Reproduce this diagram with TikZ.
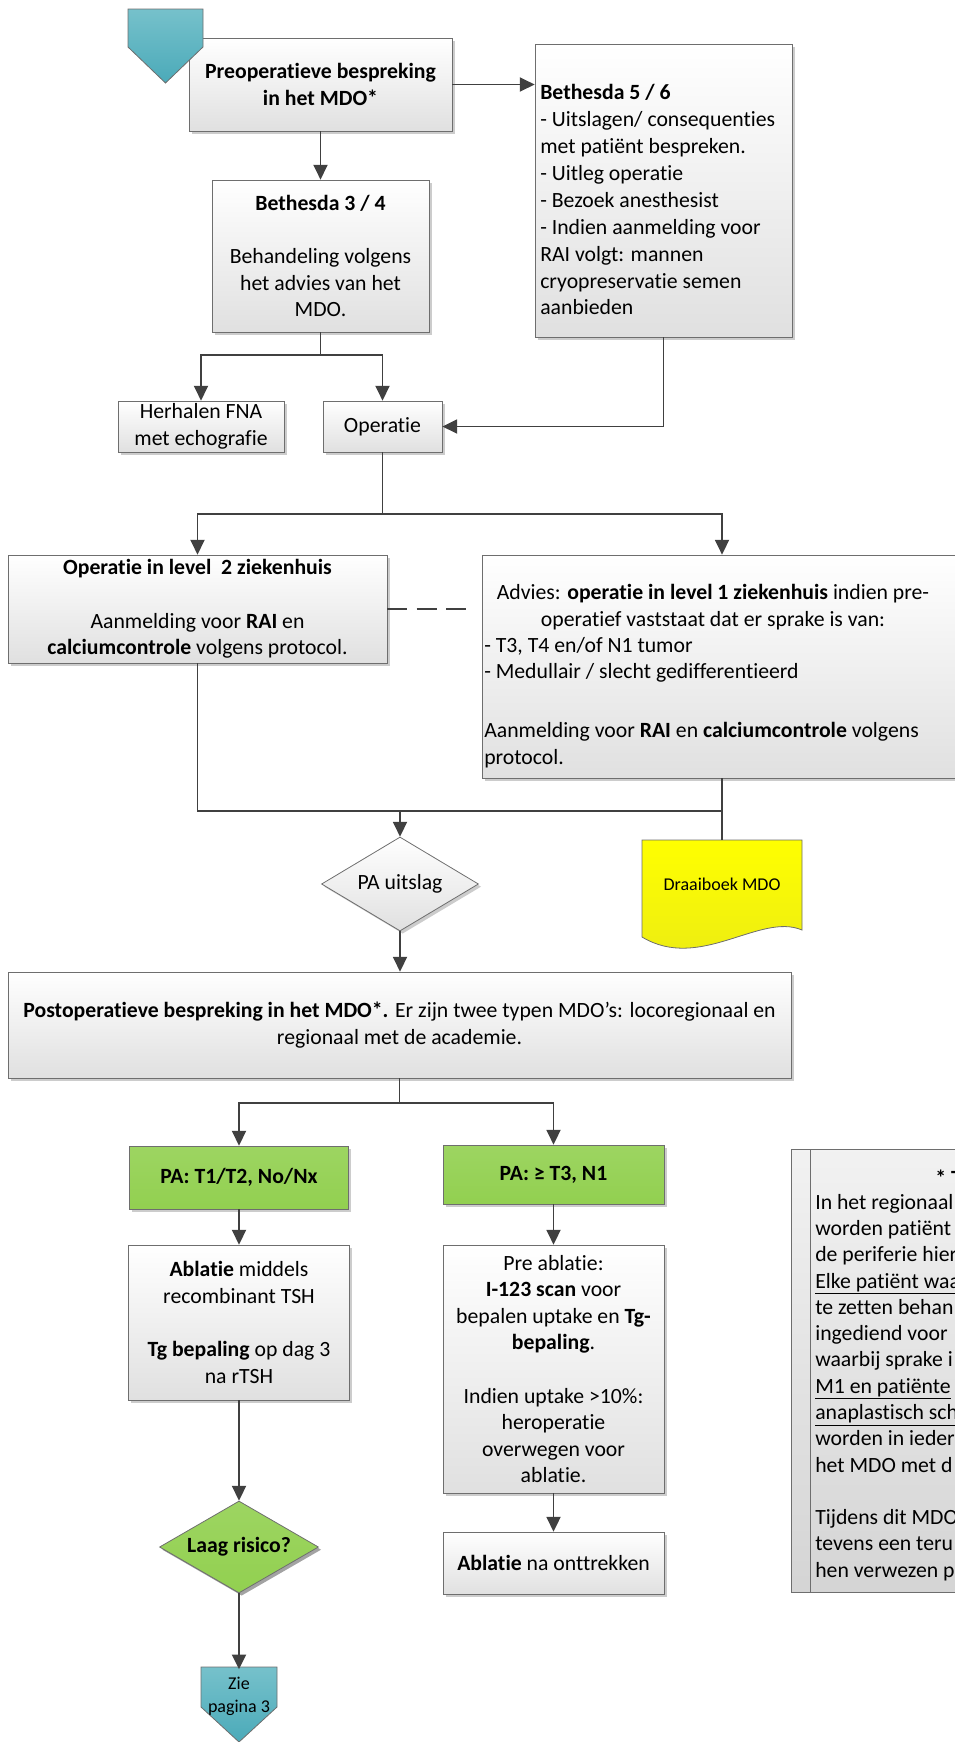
\documentclass[tikz,border=0pt]{standalone}
\usepackage{fontspec}
\setmainfont{Carlito}[Ligatures={NoCommon}]
\usetikzlibrary{arrows.meta,shapes.geometric,shadows}

\definecolor{lijn}{RGB}{64,64,64}
\definecolor{rand}{RGB}{110,110,110}
\definecolor{grijsonder}{RGB}{224,224,224}
\definecolor{mdogroen}{RGB}{146,208,80}
\definecolor{tealboven}{RGB}{118,193,203}
\definecolor{tealonder}{RGB}{75,170,185}
\definecolor{geel}{RGB}{255,255,0}
\definecolor{geelonder}{RGB}{235,235,20}
\definecolor{notitie}{RGB}{236,236,236}

\newcommand\mdofont{\fontsize{16.3}{19.9}\selectfont}
\newcommand\kleinfont{\fontsize{13.5}{17}\selectfont}

\tikzset{
  blok/.style={draw=rand, line width=0.6pt, shading=axis, top color=white, bottom color=grijsonder,
    drop shadow={shadow xshift=2pt, shadow yshift=-2pt, fill=black, opacity=0.2},
    inner sep=0pt, align=center},
  groenblok/.style={blok, top color=mdogroen!90!white, bottom color=mdogroen},
  ruit/.style={blok, diamond, aspect=1.67},
  pijl/.style={draw=lijn, line width=1.4pt, -{Triangle[length=11pt,width=10.5pt]}},
  verbinding/.style={draw=lijn, line width=1.4pt},
  tekst/.style={inner sep=0pt, align=left},
}

\begin{document}
\begin{tikzpicture}[x=0.75pt,y=0.75pt,yscale=-1,xscale=1,font=\mdofont]
\useasboundingbox (0,0) rectangle (955,1742);

%Shape: Rectangle
\node [blok, minimum width=197.25pt, minimum height=69.75pt, font=\mdofont\bfseries] (preop) at (320.5,84.5) {Preoperatieve bespreking\\in het MDO*};
%Shape: Pentagon (start)
\draw [draw=rand, line width=0.6pt, top color=tealboven, bottom color=tealonder] (128,9) -- (203,9) -- (203,47) -- (165.5,83) -- (128,47) -- cycle ;

%Shape: Rectangle
\node [blok, minimum width=192.75pt, minimum height=219.75pt] (beth56) at (663.5,190.5) {};
% Text Node
\node [tekst, anchor=north west, font=\fontsize{16.3}{20.2}\selectfont] (b56tekst) at (540,84) {\textbf{Bethesda 5 / 6}\\- Uitslagen/ consequenties\\met patiënt bespreken.\\- Uitleg operatie\\- Bezoek anesthesist\\- Indien aanmelding voor\\RAI volgt: mannen\\cryopreservatie semen\\aanbieden};

%Shape: Rectangle
\node [blok, minimum width=162.75pt, minimum height=114pt] (beth34) at (320.5,256) {\textbf{Bethesda 3 / 4}\\\mbox{}\\Behandeling volgens\\het advies van het\\MDO.};
\node [blok, minimum width=124.5pt, minimum height=38.25pt] (herhalen) at (201,426.5) {Herhalen FNA\\met echografie};
\node [blok, minimum width=89.25pt, minimum height=38.25pt] (operatie) at (382.5,426.5) {Operatie};

\node [blok, minimum width=284.25pt, minimum height=81pt] (level2) at (197.5,609) {\textbf{Operatie in level\ \ 2 ziekenhuis}\\\mbox{}\\Aanmelding voor \textbf{RAI} en\\\textbf{calciumcontrole} volgens protocol.};
\node [blok, minimum width=360pt, minimum height=167.25pt] (advies) at (722,666.5) {};
% Text Node
\node [tekst, align=center] (advkop) at (713,607) {Advies: \textbf{operatie in level 1 ziekenhuis} indien pre-\\operatief vaststaat dat er sprake is van:};
% Text Node
\node [tekst, anchor=north west] (advlijst) at (484,637) {- T3, T4 en/of N1 tumor\\- Medullair / slecht gedifferentieerd};
% Text Node
\node [tekst, anchor=north west] (advaanm) at (484,722) {Aanmelding voor \textbf{RAI} en \textbf{calciumcontrole} volgens\\protocol.};

%Shape: Document
\draw [draw=rand, line width=0.6pt, top color=geel, bottom color=geelonder] (642,840) -- (802,840) -- (802,930) .. controls (760,912) and (700,972) .. (642,937) -- cycle ;
\node [minimum width=120pt, minimum height=66pt, inner sep=0pt, font=\kleinfont] (draai) at (722,884) {Draaiboek MDO};

%Shape: Diamond
\node [ruit, minimum width=117.75pt, minimum height=70.5pt] (pa) at (400,884) {PA uitslag};

\node [blok, minimum width=587.25pt, minimum height=79.5pt] (postop) at (399.5,1025) {\textbf{Postoperatieve bespreking in het MDO*.} Er zijn twee typen MDO’s: locoregionaal en\\regionaal met de academie.};

\node [groenblok, minimum width=164.25pt, minimum height=47.25pt, font=\mdofont\bfseries] (groen1) at (239,1177.5) {PA: T1/T2, No/Nx};
\node [groenblok, minimum width=165.75pt, minimum height=44.25pt, font=\mdofont\bfseries] (groen2) at (553.5,1174.5) {PA: ≥ T3, N1};

\node [blok, minimum width=165.75pt, minimum height=116.25pt] (ablatie) at (239,1322.5) {\textbf{Ablatie} middels\\recombinant TSH\\\mbox{}\\\textbf{Tg bepaling} op dag 3\\na rTSH};
\node [blok, minimum width=165.75pt, minimum height=186pt] (preabl) at (553.5,1369) {Pre ablatie:\\\textbf{I-123 scan} voor\\bepalen uptake en \textbf{Tg-}\\\textbf{bepaling}.\\\mbox{}\\Indien uptake >10\%:\\heroperatie\\overwegen voor\\ablatie.};
\node [blok, minimum width=165.75pt, minimum height=46.5pt] (ablna) at (553.5,1563) {\textbf{Ablatie} na onttrekken};

%Shape: Diamond
\node [ruit, groenblok, diamond, aspect=1.73, minimum width=119.25pt, minimum height=69pt, font=\mdofont\bfseries] (laag) at (239,1547) {Laag risico?};

%Shape: Pentagon (off-page)
\draw [draw=rand, line width=0.6pt, top color=tealboven, bottom color=tealonder] (201,1667) -- (277,1667) -- (277,1707) -- (239,1742) -- (201,1707) -- cycle ;
\node [inner ysep=6pt, inner xsep=0pt, minimum width=57pt, align=center, font=\kleinfont] (zie) at (239,1696.5) {Zie\\pagina 3};

%Shape: Note
\draw [draw=rand, line width=0.6pt, top color=notitie!70!white, bottom color=notitie!90!black] (791,1149) rectangle (1010,1592) ;
\draw [rand, line width=0.6pt] (810,1149) -- (810,1592) ;
% Text Node
\node [tekst, anchor=west] (toelkop) at (935,1178) {\textbf{* T}};
% Text Node
\node [tekst, anchor=north west, font=\fontsize{16.3}{19.7}\selectfont] (toeltekst) at (815,1194) {In het regionaal\\worden patiënt\\de periferie hier\\\underline{Elke patiënt waa}\\te zetten behan\\ingediend voor\\waarbij sprake i\\\underline{M1 en patiënte}\\\underline{anaplastisch sch}\\worden in ieder\\het MDO met d\\\mbox{}\\Tijdens dit MDO\\tevens een teru\\hen verwezen p};

%Straight Lines
\coordinate (j1) at (320.5,355);
\coordinate (j2) at (382.5,514);
\coordinate (j3) at (400,811);
\coordinate (j4) at (399.5,1103);
\coordinate (streepeind) at (470,609);

\draw [pijl] (preop.south) -- (beth34.north);
\draw [pijl] (preop.east) -- (preop.east -| beth56.west);
\draw [pijl] (beth34.south) -- (j1) -| (herhalen.north);
\draw [pijl] (j1) -| (operatie.north);
\draw [pijl] (beth56.south) |- (operatie.east);
\draw [pijl] (operatie.south) -- (j2) -| (level2.north);
\draw [pijl] (j2) -| (advies.north);
\draw [verbinding, dash pattern=on 15pt off 7pt] (level2.east) -- (streepeind);
\draw [pijl] (level2.south) |- (j3) -- (pa.north);
\draw [verbinding] (j3) -| (advies.south);
\draw [verbinding] (advies.south) -- (draai.north);
\draw [pijl] (pa.south) -- (pa.south |- postop.north);
\draw [pijl] (postop.south) -- (j4) -| (groen1.north);
\draw [pijl] (j4) -| (groen2.north);
\draw [pijl] (groen1.south) -- (ablatie.north);
\draw [pijl] (groen2.south) -- (preabl.north);
\draw [pijl] (preabl.south) -- (ablna.north);
\draw [pijl] (ablatie.south) -- (laag.north);
\draw [pijl] (laag.south) -- (zie.north);

\end{tikzpicture}
\end{document}
